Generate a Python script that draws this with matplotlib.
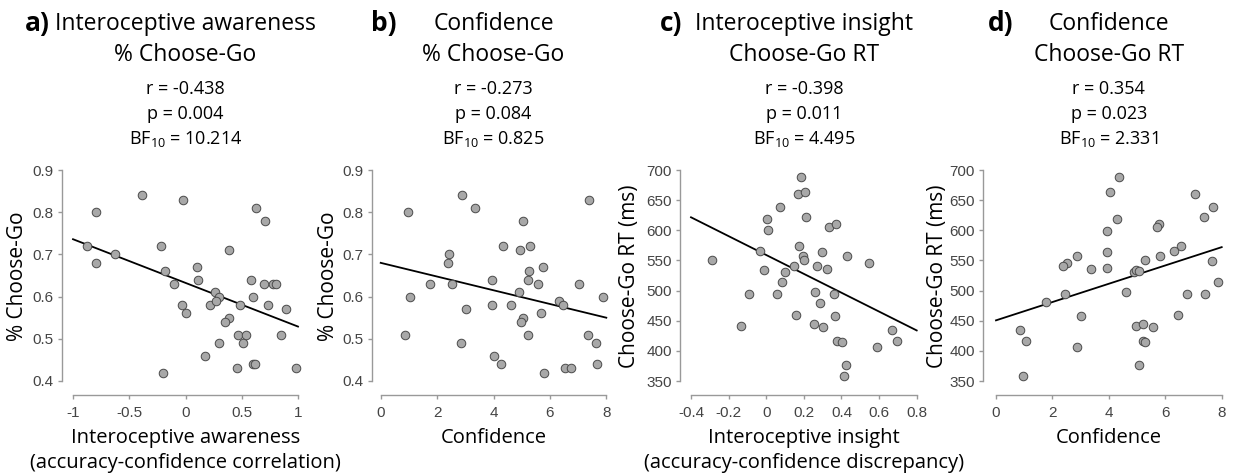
"""
Four scatter panels: interoceptive measures / confidence vs Choose-Go behaviour.
"""
import matplotlib
matplotlib.use("Agg")
import matplotlib.pyplot as plt

plt.rcParams["font.family"] = ["Open Sans", "DejaVu Sans"]
plt.rcParams["mathtext.fontset"] = "custom"
plt.rcParams["mathtext.rm"] = "Open Sans"

W, H = 1233, 475

# ---------------------------------------------------------------------------
# Data
# ---------------------------------------------------------------------------
# a) interoceptive awareness vs % Choose-Go
aware_x = [-0.39, -0.02, -0.80, 0.63, 0.71, -0.88, -0.22, 0.39, -0.63, -0.80,
           0.10, -0.18, 0.11, 0.58, -0.10, 0.70, 0.78, 0.80, 0.26, 0.30,
           0.60, -0.03, 0.22, 0.27, 0.48, 0.73, 0.89, 0.00, 0.39, 0.35,
           0.47, 0.54, 0.85, 0.30, 0.51, 0.17, 0.60, 0.62, 0.46, 0.98, -0.20]
aware_pgo = [0.84, 0.83, 0.80, 0.81, 0.78, 0.72, 0.72, 0.71, 0.70, 0.68,
             0.67, 0.66, 0.64, 0.64, 0.63, 0.63, 0.63, 0.63, 0.61, 0.60,
             0.60, 0.58, 0.58, 0.59, 0.58, 0.58, 0.57, 0.56, 0.55, 0.54,
             0.51, 0.51, 0.51, 0.49, 0.49, 0.46, 0.44, 0.44, 0.43, 0.43, 0.42]

# b) confidence vs % Choose-Go
conf_b = [2.87, 3.35, 7.39, 0.96, 5.06, 4.35, 4.95, 5.28, 2.43, 2.38,
          5.74, 5.27, 3.95, 5.21, 1.76, 2.52, 5.58, 7.04, 4.91, 1.05,
          7.87, 3.94, 4.62, 6.31, 6.48, 3.01, 5.69, 5.05, 4.96, 0.85,
          5.22, 7.36, 2.85, 7.65, 4.03, 4.28, 7.68, 6.55, 6.76, 5.80]
pgo_b = [0.84, 0.81, 0.83, 0.80, 0.78, 0.72, 0.71, 0.72, 0.70, 0.68,
         0.67, 0.66, 0.64, 0.64, 0.63, 0.63, 0.63, 0.63, 0.61, 0.60,
         0.60, 0.58, 0.58, 0.59, 0.58, 0.57, 0.56, 0.55, 0.54, 0.51,
         0.51, 0.51, 0.49, 0.49, 0.46, 0.44, 0.44, 0.43, 0.43, 0.42]

# c) interoceptive insight vs Choose-Go RT
insight_x = [0.183, 0.167, 0.207, 0.074, 0.003, 0.209, 0.007, 0.335, 0.369, 0.174,
             -0.034, 0.296, -0.289, 0.193, 0.202, 0.431, 0.544, 0.147, 0.268, -0.011,
             0.101, 0.322, 0.082, -0.090, 0.059, 0.261, 0.362, 0.287, 0.158, 0.367,
             -0.132, 0.254, 0.303, 0.670, 0.374, 0.404, 0.695, 0.587, 0.424, 0.413]
rt_c = [689, 661, 664, 638, 619, 622, 600, 606, 610, 574,
        566, 564, 551, 558, 550, 557, 546, 540, 541, 534,
        531, 536, 514, 495, 495, 498, 495, 480, 459, 458,
        442, 445, 439, 435, 417, 414, 417, 406, 377, 358]

# d) confidence vs Choose-Go RT
conf_d = [4.35, 4.03, 7.07, 7.68, 4.28, 7.37, 3.94, 5.76, 5.69, 3.95,
          6.56, 6.32, 2.86, 2.52, 2.37, 5.80, 5.28, 7.66, 3.36, 3.94,
          4.89, 4.97, 5.07, 7.87, 4.62, 1.77, 2.43, 6.77, 7.41, 3.03,
          6.46, 4.96, 5.22, 5.58, 0.85, 1.05, 5.21, 5.27, 2.87, 5.07, 0.95]
rt_d = [689, 664, 661, 638, 619, 622, 599, 610, 606, 564,
        574, 566, 557, 546, 541, 557, 550, 549, 536, 538,
        531, 534, 533, 514, 498, 481, 495, 495, 495, 458,
        459, 441, 445, 439, 435, 416, 416, 414, 406, 377, 358]

# regression lines: (intercept, slope, x from, x to)
fit_a = (0.6325, -0.1035, -1.0, 1.0)
fit_b = (0.680, -0.01625, 0.0, 8.0)
fit_c = (559.0, -156.4, -0.4, 0.8)
fit_d = (450.6, 15.18, 0.0, 8.0)

titles = [("a)", "Interoceptive awareness", "% Choose-Go"),
          ("b)", "Confidence", "% Choose-Go"),
          ("c)", "Interoceptive insight", "Choose-Go RT"),
          ("d)", "Confidence", "Choose-Go RT")]
stats = [("-0.438", "0.004", "10.214"),
         ("-0.273", "0.084", "0.825"),
         ("-0.398", "0.011", "4.495"),
         ("0.354", "0.023", "2.331")]
xlabels = [["Interoceptive awareness", "(accuracy-confidence correlation)"],
           ["Confidence"],
           ["Interoceptive insight", "(accuracy-confidence discrepancy)"],
           ["Confidence"]]
ylabels = ["% Choose-Go", "% Choose-Go", "Choose-Go RT (ms)", "Choose-Go RT (ms)"]

pgo_ticks = [0.4, 0.5, 0.6, 0.7, 0.8, 0.9]
rt_ticks = [350, 400, 450, 500, 550, 600, 650, 700]
aware_ticks = [-1, -0.5, 0, 0.5, 1]
conf_ticks = [0, 2, 4, 6, 8]
insight_ticks = [-0.4, -0.2, 0, 0.2, 0.4, 0.6, 0.8]

# ---------------------------------------------------------------------------
# Layout helpers (pixel geometry of each panel)
# ---------------------------------------------------------------------------
# (first x tick px, last x tick px, left spine px, letter px, ylabel px)
geom = [(73.0, 298.0, 61.5, 25, 18),
        (380.7, 606.3, 372.0, 371, 328),
        (691.0, 916.7, 680.0, 660, 630),
        (996.0, 1221.7, 983.0, 988, 938)]
Y_TOP_PX, Y_BOT_PX, X_AXIS_PX = 170.0, 381.0, 395.0


def fx(px):
    return px / W


def fy(py):
    return 1 - py / H


def make_axes(fig, xt, yt, g):
    px0, px1, left_px = g[0], g[1], g[2]
    right_px, top_px = px1 + 8, Y_TOP_PX - 8
    sx = (px1 - px0) / (xt[-1] - xt[0])
    sy = (Y_BOT_PX - Y_TOP_PX) / (yt[-1] - yt[0])
    ax = fig.add_axes([fx(left_px), fy(X_AXIS_PX),
                       (right_px - left_px) / W, (X_AXIS_PX - top_px) / H])
    ax.set_xlim(xt[0] - (px0 - left_px) / sx, xt[-1] + (right_px - px1) / sx)
    ax.set_ylim(yt[0] - (X_AXIS_PX - Y_BOT_PX) / sy, yt[-1] + (Y_TOP_PX - top_px) / sy)
    ax.patch.set_visible(False)
    for s in ("top", "right"):
        ax.spines[s].set_visible(False)
    for s in ("left", "bottom"):
        ax.spines[s].set_color("#999999")
        ax.spines[s].set_linewidth(1.0)
    ax.spines["left"].set_bounds(yt[0], yt[-1])
    ax.spines["bottom"].set_bounds(xt[0], xt[-1])
    ax.set_xticks(xt)
    ax.set_yticks(yt)
    ax.set_xticklabels([f"{t:g}" for t in xt], family="Liberation Sans")
    ax.set_yticklabels([f"{t:g}" for t in yt], family="Liberation Sans")
    ax.tick_params(direction="out", length=3, width=1.0, color="#999999",
                   labelcolor="#444444", labelsize=11)
    ax.tick_params(axis="x", pad=5)
    ax.tick_params(axis="y", pad=3)
    return ax


fig = plt.figure(figsize=(W / 100, H / 100), dpi=100)

panels = [(aware_x, aware_pgo, fit_a, aware_ticks, pgo_ticks),
          (conf_b, pgo_b, fit_b, conf_ticks, pgo_ticks),
          (insight_x, rt_c, fit_c, insight_ticks, rt_ticks),
          (conf_d, rt_d, fit_d, conf_ticks, rt_ticks)]

for i, (x, y, fit, xt, yt) in enumerate(panels):
    g = geom[i]
    ax = make_axes(fig, xt, yt, g)
    b0, b1, xa, xb = fit
    ax.plot([xa, xb], [b0 + b1 * xa, b0 + b1 * xb], color="black", lw=1.3, zorder=2)
    ax.scatter(x, y, s=38, facecolor="#a8a8a8", edgecolor="#4a4a4a",
               linewidth=0.7, zorder=3, clip_on=False)

    cx = (g[0] + g[1]) / 2
    letter, t1, t2 = titles[i]
    fig.text(fx(g[3]), fy(24), letter, fontsize=19, fontweight="bold",
             ha="left", va="center")
    fig.text(fx(cx), fy(24), t1, fontsize=16.5, ha="center", va="center")
    fig.text(fx(cx), fy(55), t2, fontsize=16.5, ha="center", va="center")

    r, p, bf = stats[i]
    fig.text(fx(cx), fy(89), f"r = {r}", fontsize=13, ha="center", va="center")
    fig.text(fx(cx), fy(114), f"p = {p}", fontsize=13, ha="center", va="center")
    fig.text(fx(cx), fy(139), r"BF$_{10}$" + f" = {bf}", fontsize=13,
             ha="center", va="center")

    for j, line in enumerate(xlabels[i]):
        fig.text(fx(cx), fy(438 + 25 * j), line, fontsize=14.5,
                 ha="center", va="center")
    fig.text(fx(g[4]), fy(276), ylabels[i], fontsize=15, rotation=90,
             ha="center", va="center")

fig.savefig("out.png", dpi=100)
plt.close(fig)
